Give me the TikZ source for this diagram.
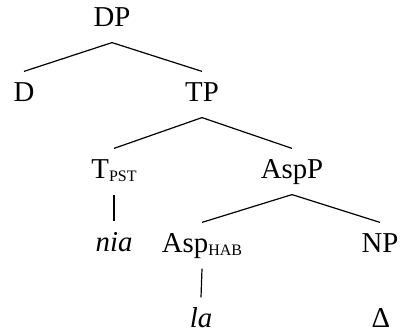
\documentclass[tikz,border=0pt]{standalone}
\usepackage{fontspec}
\setmainfont{Liberation Serif}
\usepackage{tikz}
\usetikzlibrary{positioning}

\newcommand{\smsub}[1]{\raisebox{-1.2pt}{\fontsize{8}{9}\selectfont #1}}
\tikzset{lbl/.style={anchor=base, font=\Large, text height=10pt, text depth=2.5pt, inner ysep=5pt, inner xsep=1pt}}

\begin{document}
\begin{tikzpicture}[x=0.5pt, y=-0.5pt, line width=0.6pt]
			\useasboundingbox (0, 0) rectangle (401, 335);
			
			\node[lbl] (dp) at (112, 27) {DP};
			\node[lbl] (d) at (24, 102) {D};
			\node[lbl] (tp) at (202, 102) {TP};
			\draw(dp.south) to (d.north);
			\draw(dp.south) to (tp.north);
			
			\node[lbl] (t) at (114, 179) {T\smsub{PST}};
			\node[lbl] (aspp) at (292, 179) {AspP};
			\draw(tp.south) to (t.north);
			\draw(tp.south) to (aspp.north);
			
			%%lower part%%
			\node[lbl] (nia) at (114, 252) {\textit{nia}};
			\draw(t.south) to (nia.north);
			
			\node[lbl] (asp) at (202, 253) {Asp\smsub{HAB}};
			\node[lbl] (np) at (380, 253) {NP};
			\draw(aspp.south) to (asp.north);
			\draw(aspp.south) to (np.north);
			
			\node[lbl] (la) at (201, 328) {\textit{la}};
			\node[lbl] (delta) at (381, 328) {Δ};
			\draw(asp.south) to (la.north);
\end{tikzpicture}
\end{document}
